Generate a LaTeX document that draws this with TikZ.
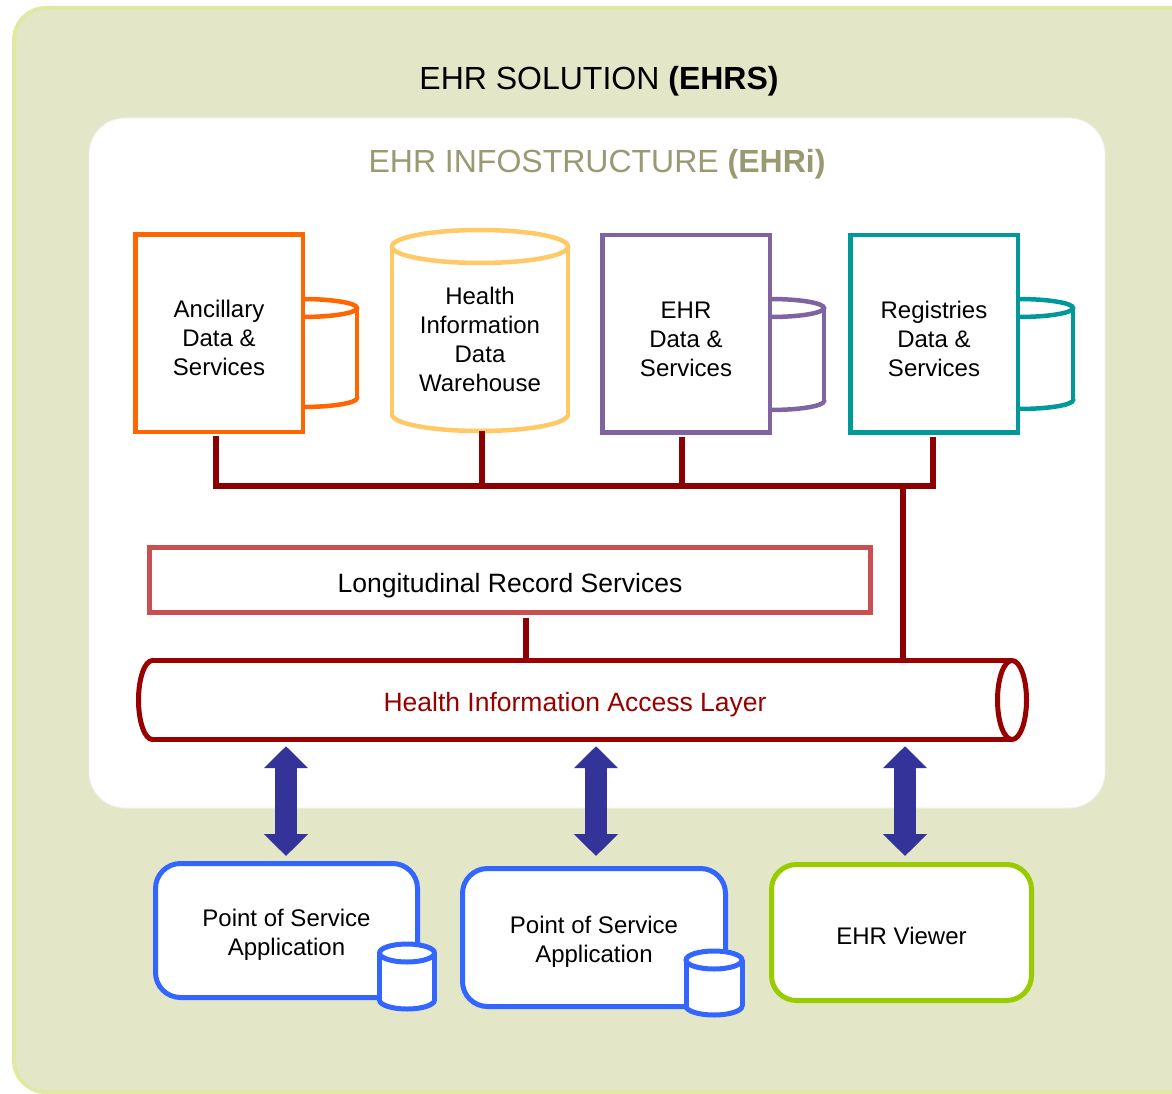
\documentclass[tikz,border=0pt]{standalone}
\usepackage{fontspec}
\setmainfont{Liberation Sans}
\usetikzlibrary{arrows.meta}
\definecolor{outerfill}{HTML}{E3E7C8}
\definecolor{outerline}{HTML}{E0E8A2}
\definecolor{corange}{HTML}{FF6600}
\definecolor{cyellow}{HTML}{FFC966}
\definecolor{cpurple}{HTML}{8064A2}
\definecolor{cteal}{HTML}{009999}
\definecolor{busred}{HTML}{8B0000}
\definecolor{hialred}{HTML}{990000}
\definecolor{lrsred}{HTML}{C85050}
\definecolor{arrowblue}{HTML}{333399}
\definecolor{posblue}{HTML}{3366FF}
\definecolor{cgreen}{HTML}{99CC00}
\definecolor{infogray}{HTML}{999972}
\newcommand{\mycyl}[6]{%
  \draw[#1, fill=white] (#2,#4) ellipse [x radius=#5, y radius=#6];
  \fill[white] (#2-#5,#3) rectangle (#2+#5,#4);
  \draw[#1] (#2-#5,#3) -- (#2-#5,#4) (#2+#5,#3) -- (#2+#5,#4);
  \draw[#1, fill=white] (#2,#3) ellipse [x radius=#5, y radius=#6];
}
\newcommand{\dn}[1]{\rule{0pt}{#1}}
\begin{document}
\begin{tikzpicture}[x=1pt,y=-1pt,
  lbl/.style={font=\fontsize{24}{29}\selectfont, align=center, text=black},
  svcbox/.style={draw, line width=4.5pt, fill=white, minimum width=167.5pt, minimum height=197.5pt, inner sep=0pt, lbl},
  appbox/.style={draw, line width=5pt, fill=white, rounded corners=25pt, inner sep=0pt, lbl},
  bus/.style={draw=busred, line width=6pt},
  dbl/.style={draw=arrowblue, line width=22pt, {Triangle[width=43pt,length=22pt]}-{Triangle[width=43pt,length=22pt]}},
]
\useasboundingbox (0,0) rectangle (1172,1094);
\begin{scope}
  \clip (0,0) rectangle (1172,1094);
  \draw[line width=4pt, draw=outerline, fill=outerfill, rounded corners=32pt] (14,8) rectangle (1215,1092);
\end{scope}
\draw[draw=white!94!black, line width=0.8pt, fill=white, rounded corners=36pt] (89,118) rectangle (1105,808);

% titles
\node[anchor=base, font=\fontsize{32}{38}\selectfont] (ehrs) at (599,90) {EHR SOLUTION \textbf{(EHRS)}};
\node[anchor=base, font=\fontsize{32}{38}\selectfont, text=infogray] (ehri) at (597,173) {EHR INFOSTRUCTURE \textbf{(EHRi)}};

% side cylinders behind the boxes
\mycyl{draw=corange, line width=4.5pt}{302}{308}{398}{55}{9}
\mycyl{draw=cpurple, line width=4.5pt}{770}{308}{401}{54}{9}
\mycyl{draw=cteal, line width=4.5pt}{1018}{308}{400}{55}{9}

% data warehouse cylinder
\mycyl{draw=cyellow, line width=4.5pt}{480}{246.5}{414.5}{88}{16.5}

\node[svcbox, draw=corange] (anc) at (219,333) {\dn{27.5pt}Ancillary\\Data \&\\Services};
\node[lbl, minimum height=183pt, inner sep=0pt] (hidw) at (480,339.5) {Health\\Information\\Data\\Warehouse};
\node[svcbox, draw=cpurple] (ehr) at (686,333.5) {\dn{27.5pt}EHR\\Data \&\\Services};
\node[svcbox, draw=cteal] (reg) at (934,333.5) {\dn{27.5pt}Registries\\Data \&\\Services};

% Longitudinal record services
\node[draw=lrsred, line width=5pt, fill=white, minimum width=721pt, minimum height=65pt, inner sep=0pt,
      font=\fontsize{26.5}{31}\selectfont] (lrs) at (510,580) {\dn{29.5pt}Longitudinal Record Services};

% health information access layer (horizontal cylinder)
\begin{scope}[line width=5pt, draw=hialred]
  \draw[draw=hialred, fill=white] (152.5,700) ellipse [x radius=14, y radius=39.5];
  \fill[white] (152.5,660.5) rectangle (1012,739.5);
  \draw[draw=hialred] (152.5,660.5) -- (1012,660.5) (152.5,739.5) -- (1012,739.5);
  \draw[draw=hialred, fill=white] (1012,700) ellipse [x radius=14.5, y radius=39.5];
\end{scope}
\node[minimum width=870pt, minimum height=84pt, inner sep=0pt, text=hialred,
      font=\fontsize{26.5}{31}\selectfont] (hial) at (575,700) {\dn{27.5pt}Health Information Access Layer};

% bus connectors
\coordinate (busy) at (0,486);
\coordinate (ancb) at ([xshift=-3pt]anc.south);
\coordinate (hidwb) at ([xshift=2pt]hidw.south);
\coordinate (ehrb) at ([xshift=-4pt]ehr.south);
\coordinate (regb) at ([xshift=-1pt]reg.south);
\draw[bus, shorten <=2.2pt, shorten >=2.2pt] (ancb) -- (ancb |- busy) -| (regb);
\draw[bus, shorten <=0pt] (hidwb) -- (hidwb |- busy);
\draw[bus, shorten <=2.2pt] (ehrb) -- (ehrb |- busy);
\coordinate (tap) at (903,486);
\draw[bus] (tap) -- (tap |- hial.north);
\coordinate (lrsb) at ([xshift=16pt]lrs.south);
\draw[bus, shorten <=2.5pt] (lrsb) -- (lrsb |- hial.north);

% client applications
\node[appbox, draw=posblue, minimum width=262pt, minimum height=134pt] (pos1) at (286.5,930.5) {\dn{25.5pt}Point of Service\\Application};
\node[appbox, draw=posblue, minimum width=263pt, minimum height=138pt] (pos2) at (594,937.5) {\dn{25.5pt}Point of Service\\Application};
\node[appbox, draw=cgreen, minimum width=260pt, minimum height=136pt] (viewer) at (901.5,932.5) {\dn{23.5pt}EHR Viewer};
\mycyl{draw=posblue, line width=5pt}{407}{953}{1000}{27.5}{9}
\mycyl{draw=posblue, line width=5pt}{714}{960}{1006}{28}{9}

% double arrows
\coordinate (p1t) at ([xshift=-0.5pt]pos1.north);
\coordinate (p2t) at ([xshift=2pt]pos2.north);
\coordinate (vt) at ([xshift=3.5pt]viewer.north);
\draw[dbl, shorten <=4pt, shorten >=5pt] (hial.south -| p1t) -- (p1t);
\draw[dbl, shorten <=4pt, shorten >=10pt] (hial.south -| p2t) -- (p2t);
\draw[dbl, shorten <=4pt, shorten >=6pt] (hial.south -| vt) -- (vt);
\end{tikzpicture}
\end{document}
